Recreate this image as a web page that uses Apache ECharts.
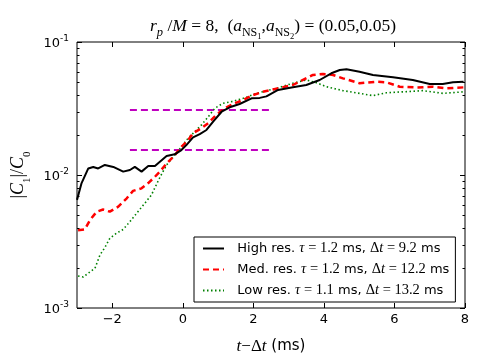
<!DOCTYPE html>
<html><head><meta charset="utf-8">
<script src="https://cdn.jsdelivr.net/npm/echarts@6/dist/echarts.min.js"></script>
<style>html,body{margin:0;padding:0;background:#fff}#c{width:485px;height:363px}</style>
</head><body><div id="c"></div>
<script>
// ---- data ----
const highX = [-3.0,-2.87,-2.68,-2.54,-2.40,-2.21,-1.97,-1.69,-1.50,-1.36,-1.17,-0.98,-0.79,-0.65,-0.46,-0.23,-0.04,0.10,0.29,0.48,0.67,0.86,1.10,1.33,1.61,1.95,2.18,2.37,2.70,3.12,3.50,3.88,4.21,4.45,4.64,5.01,5.39,5.96,6.52,7.00,7.37,7.66,7.96];
const highY = [0.0065,0.0087,0.0112,0.0115,0.0112,0.0119,0.0115,0.0106,0.0109,0.0115,0.0106,0.0117,0.0117,0.0126,0.0139,0.0143,0.0154,0.0168,0.0192,0.0203,0.0218,0.0252,0.0299,0.0323,0.0342,0.0377,0.0380,0.0390,0.0436,0.0456,0.0475,0.0518,0.0582,0.0616,0.0623,0.0598,0.0565,0.0543,0.0518,0.0483,0.0483,0.0498,0.0503];
const medX = [-2.97,-2.78,-2.63,-2.44,-2.26,-2.07,-1.83,-1.59,-1.41,-1.17,-0.98,-0.79,-0.65,-0.46,-0.23,-0.04,0.15,0.29,0.53,0.72,0.95,1.19,1.42,1.71,1.99,2.27,2.56,3.12,3.69,3.97,4.26,4.54,5.01,5.49,5.77,6.15,6.62,7.09,7.47,7.96];
const medY = [0.00385,0.0039,0.00459,0.0053,0.0055,0.0053,0.00578,0.00668,0.00759,0.00794,0.0087,0.0097,0.0106,0.0122,0.0141,0.0163,0.0183,0.0206,0.0225,0.0245,0.0283,0.0318,0.0342,0.0366,0.0399,0.0422,0.044,0.0475,0.0565,0.0575,0.0565,0.0533,0.049,0.0503,0.0498,0.0461,0.0455,0.0461,0.0448,0.0456];
const lowX = [-2.97,-2.82,-2.63,-2.49,-2.35,-2.21,-2.07,-1.88,-1.69,-1.50,-1.31,-1.08,-0.89,-0.65,-0.46,-0.23,-0.04,0.15,0.34,0.53,0.72,0.91,1.14,1.38,1.71,2.09,2.46,2.65,3.12,3.50,3.79,4.07,4.54,5.01,5.39,5.77,6.24,6.80,7.37,7.96];
const lowY = [0.00174,0.00171,0.00187,0.00199,0.0025,0.00285,0.00334,0.00365,0.0039,0.00446,0.00515,0.00612,0.00708,0.0096,0.0119,0.0141,0.0163,0.0189,0.0212,0.0238,0.0274,0.0318,0.0346,0.0356,0.0377,0.0411,0.0436,0.0448,0.049,0.0518,0.0494,0.0461,0.0431,0.0411,0.0395,0.0415,0.0422,0.0431,0.0411,0.0422];
const refX = [-1.5, 2.5];
const refUpperY = 0.0308;
const refLowerY = 0.0154;
const xTicks = [-2, 0, 2, 4, 6, 8];
const yMajorTicks = [0.001, 0.01, 0.1];
const yMinorTicks = [0.002,0.003,0.004,0.005,0.006,0.007,0.008,0.009,0.02,0.03,0.04,0.05,0.06,0.07,0.08,0.09];
const seriesNames = ['High res.', 'Med. res.', 'Low res.'];
const legendTexts = {
  'High res.': '  High res. {m|τ}{s| = 1.2} ms, {s|Δ}{m|t}{s| = 9.2} ms',
  'Med. res.': '  Med. res. {m|τ}{s| = 1.2} ms, {s|Δ}{m|t}{s| = 12.2} ms',
  'Low res.':  '  Low res. {m|τ}{s| = 1.1} ms, {s|Δ}{m|t}{s| = 13.2} ms'
};
const xMin = -3, xMax = 8, yMin = 0.001, yMax = 0.1;

const zip = (xs, ys) => xs.map((x, i) => [x, ys[i]]);
const SANS = 'DejaVu Sans';
const SERIF = 'Liberation Serif';

const chart = echarts.init(document.getElementById('c'), null, {renderer: 'canvas'});

function tickRender(params, api) {
  const ch = [];
  const ln = (x1, y1, x2, y2) => ch.push({type: 'line', shape: {x1, y1, x2, y2}, style: {stroke: '#000', lineWidth: 1}});
  xTicks.forEach(v => {
    const b = api.coord([v, yMin]), t = api.coord([v, yMax]);
    const x = Math.round(b[0]) + 0.5;
    ln(x, b[1], x, b[1] - 5);
    ln(x, t[1], x, t[1] + 5);
  });
  yMajorTicks.forEach(v => {
    const l = api.coord([xMin, v]), r = api.coord([xMax, v]);
    const y = Math.round(l[1]) + 0.5;
    ln(l[0], y, l[0] + 5, y);
    ln(r[0], y, r[0] - 5, y);
  });
  yMinorTicks.forEach(v => {
    const l = api.coord([xMin, v]), r = api.coord([xMax, v]);
    const y = Math.round(l[1]) + 0.5;
    ln(l[0], y, l[0] + 2.5, y);
    ln(r[0], y, r[0] - 2.5, y);
  });
  return {type: 'group', children: ch};
}

const tNorm = {fontFamily: SERIF, fontSize: 17.5, color: '#000', fontWeight: 'normal', lineHeight: 22, verticalAlign: 'bottom'};
const subBase = {fontFamily: SERIF, color: '#000', fontWeight: 'normal', verticalAlign: 'bottom'};
const option = {
  backgroundColor: '#fff',
  animation: false,
  title: {
    text: '{i|r}{sbi|p}{n| /}{i|M}{n| = 8,  (}{i|a}{sb|NS}{ss|1}{n|,}{i|a}{sb|NS}{ss|2}{n|) = (0.05,0.05)}',
    left: 268, top: 8, textAlign: 'center',
    textStyle: {
      fontWeight: 'normal',
      rich: {
        i: Object.assign({}, tNorm, {fontStyle: 'italic'}),
        n: tNorm,
        sbi: Object.assign({}, subBase, {fontStyle: 'italic', fontSize: 12.5, lineHeight: 12, padding: [0,0,-4,0]}),
        sb: Object.assign({}, subBase, {fontSize: 12, lineHeight: 12, padding: [0,0,-4,0]}),
        ss: Object.assign({}, subBase, {fontSize: 8.5, lineHeight: 10, padding: [0,0,-6,0]})
      }
    }
  },
  grid: {left: 77, right: 20, top: 42, bottom: 55, show: true, borderColor: '#000', borderWidth: 1, backgroundColor: 'transparent'},
  legend: {
    data: seriesNames,
    orient: 'vertical',
    left: 194, top: 237,
    itemWidth: 21, itemHeight: 14, itemGap: 4,
    padding: [3, 6, 3, 8],
    borderColor: '#000', borderWidth: 1, backgroundColor: '#fff',
    itemStyle: {opacity: 0},
    formatter: n => legendTexts[n],
    textStyle: {
      fontFamily: SANS, fontSize: 13, color: '#000', lineHeight: 17,
      rich: {
        m: {fontFamily: SERIF, fontStyle: 'italic', fontSize: 14.5, color: '#000', lineHeight: 17},
        s: {fontFamily: SERIF, fontSize: 14.5, color: '#000', lineHeight: 17}
      }
    }
  },
  xAxis: {
    type: 'value', min: xMin, max: xMax, interval: 1,
    axisLine: {show: false}, axisTick: {show: false}, splitLine: {show: false},
    axisLabel: {
      margin: 5, color: '#000', fontFamily: SANS, fontSize: 13,
      formatter: v => (Math.round(v) % 2 === 0 ? String(v).replace('-', '\u2212') : '')
    },
    name: '{m|t}{s|−Δ}{m|t}{n| (ms)}',
    nameLocation: 'middle', nameGap: 30,
    nameTextStyle: {
      rich: {
        m: {fontFamily: SERIF, fontStyle: 'italic', fontSize: 17, color: '#000'},
        s: {fontFamily: SERIF, fontSize: 17, color: '#000'},
        n: {fontFamily: SANS, fontSize: 15, color: '#000'}
      }
    }
  },
  yAxis: {
    type: 'log', logBase: 10, min: yMin, max: yMax,
    axisLine: {show: false}, axisTick: {show: false}, splitLine: {show: false}, minorTick: {show: false},
    axisLabel: {
      margin: 8, color: '#000',
      formatter: v => '{b|10}{e|' + String(Math.round(Math.log10(v))) + '}',
      rich: {
        b: {fontFamily: SANS, fontSize: 13, color: '#000', lineHeight: 16, verticalAlign: 'bottom', padding: [6,0,0,0]},
        e: {fontFamily: SANS, fontSize: 9, color: '#000', lineHeight: 12, verticalAlign: 'top', padding: [0,0,6,0]}
      }
    },
    name: '{b||}{m|C}{sb|1}{b||/}{m|C}{sb|0}',
    nameLocation: 'middle', nameGap: 42, nameRotate: 90,
    nameTextStyle: {
      rich: {
        b: {fontFamily: SERIF, fontSize: 18, color: '#000'},
        m: {fontFamily: SERIF, fontStyle: 'italic', fontSize: 18, color: '#000'},
        sb: {fontFamily: SERIF, fontSize: 11, color: '#000', verticalAlign: 'bottom', padding: [0,0,-5,0]}
      }
    }
  },
  series: [
    {name: seriesNames[0], type: 'line', data: zip(highX, highY), showSymbol: false, symbol: 'none', color: '#000', z: 5,
     lineStyle: {color: '#000', width: 2}},
    {name: seriesNames[1], type: 'line', data: zip(medX, medY), showSymbol: false, symbol: 'none', color: '#ff0000', z: 4,
     lineStyle: {color: '#ff0000', width: 2.5, type: [6, 4]}},
    {name: seriesNames[2], type: 'line', data: zip(lowX, lowY), showSymbol: false, symbol: 'none', color: '#008000', z: 3,
     lineStyle: {color: '#008000', width: 1.6, type: [1.5, 2.5]}},
    {name: 'ref-upper', type: 'line', data: refX.map(x => [x, refUpperY]), showSymbol: false, symbol: 'none', z: 2,
     lineStyle: {color: '#bf00bf', width: 2, type: [7, 4]}},
    {name: 'ref-lower', type: 'line', data: refX.map(x => [x, refLowerY]), showSymbol: false, symbol: 'none', z: 2,
     lineStyle: {color: '#bf00bf', width: 2, type: [7, 4]}},
    {name: 'ticks', type: 'custom', renderItem: tickRender, data: [[0, 0.01]], silent: true, z: 10, clip: false}
  ]
};
chart.setOption(option);
</script>
</body></html>
